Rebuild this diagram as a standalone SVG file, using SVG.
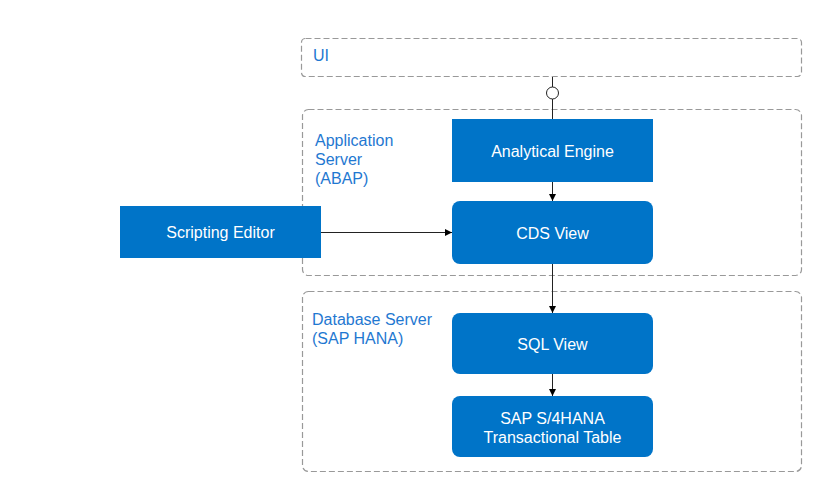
<svg xmlns="http://www.w3.org/2000/svg" width="818" height="490" viewBox="0 0 818 490">
<defs>
<marker id="arr" markerWidth="8" markerHeight="8" refX="7" refY="4" orient="auto" markerUnits="userSpaceOnUse">
<path d="M0,0.5 L7,4 L0,7.5 Z" fill="#000"/>
</marker>
<style>
.zone{fill:none;stroke:#999;stroke-width:1.2;stroke-dasharray:6,3}
.zl{font-family:"Liberation Sans",Arial,sans-serif;font-size:16px;fill:#1f78d1}
.box{fill:#0074c8}
.nt{font-family:"Liberation Sans",Arial,sans-serif;font-size:16px;fill:#fff;text-anchor:middle}
.ln{stroke:#222;stroke-width:1;fill:none}
</style>
</defs>
<rect width="818" height="490" fill="#fff"/>
<g id="zone-ui"><rect class="zone" x="301.5" y="38.5" width="500" height="38" rx="4"/><text class="zl" x="313" y="61">UI</text></g>
<g id="zone-app"><rect class="zone" x="302.5" y="109.5" width="499" height="166" rx="6"/><text class="zl" x="315" y="146">Application</text><text class="zl" x="315" y="165">Server</text><text class="zl" x="315" y="184">(ABAP)</text></g>
<g id="zone-db"><rect class="zone" x="302.5" y="291.5" width="499" height="180" rx="6"/><text class="zl" x="312" y="325">Database Server</text><text class="zl" x="312" y="344">(SAP HANA)</text></g>
<g id="connectors">
<line class="ln" x1="552.5" y1="77" x2="552.5" y2="87"/>
<circle cx="552.5" cy="93" r="6" fill="#fff" stroke="#222" stroke-width="1"/>
<line class="ln" x1="552.5" y1="99" x2="552.5" y2="119"/>
<line class="ln" x1="552.5" y1="182" x2="552.5" y2="201" marker-end="url(#arr)"/>
<line class="ln" x1="321" y1="232.5" x2="452" y2="232.5" marker-end="url(#arr)"/>
<line class="ln" x1="552.5" y1="264" x2="552.5" y2="313" marker-end="url(#arr)"/>
<line class="ln" x1="552.5" y1="374" x2="552.5" y2="396" marker-end="url(#arr)"/>
</g>
<g id="analytical-engine"><rect class="box" x="452" y="119" width="201" height="63"/><text class="nt" x="552.5" y="157">Analytical Engine</text></g>
<g id="cds-view"><rect class="box" x="452" y="201" width="201" height="63" rx="8"/><text class="nt" x="552.5" y="239">CDS View</text></g>
<g id="scripting-editor"><rect class="box" x="120" y="206" width="201" height="52"/><text class="nt" x="220.5" y="238">Scripting Editor</text></g>
<g id="sql-view"><rect class="box" x="452" y="313" width="201" height="61" rx="8"/><text class="nt" x="552.5" y="350">SQL View</text></g>
<g id="s4-table"><rect class="box" x="452" y="396" width="201" height="61" rx="8"/><text class="nt" x="552.5" y="424">SAP S/4HANA</text><text class="nt" x="552.5" y="443">Transactional Table</text></g>
</svg>
